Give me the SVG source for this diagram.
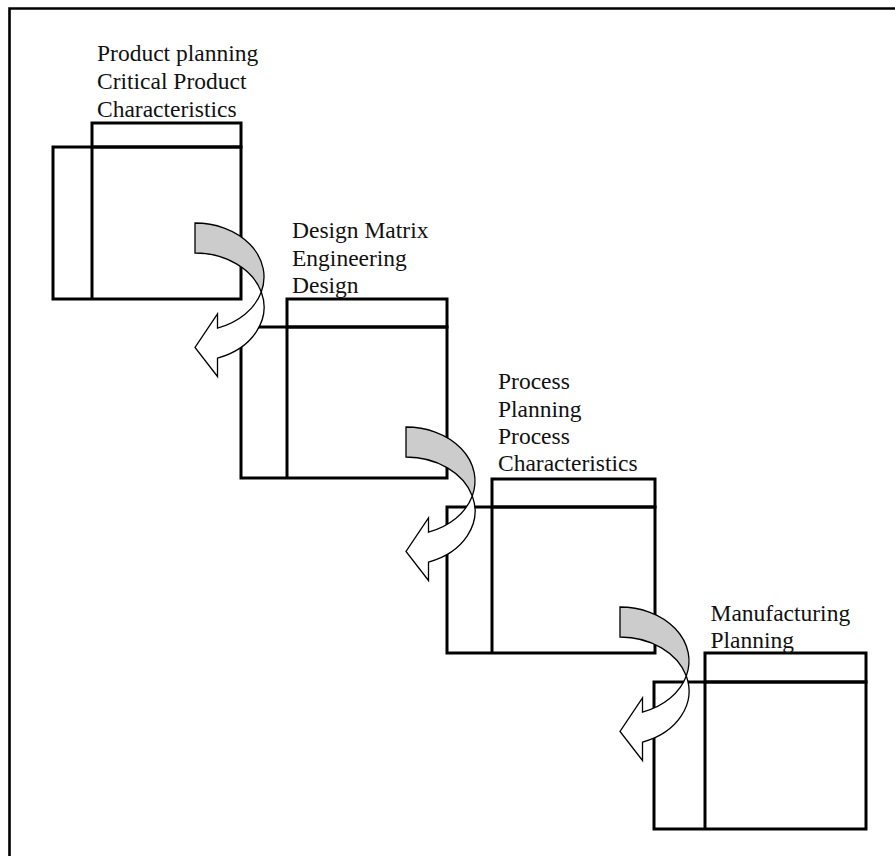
<svg xmlns="http://www.w3.org/2000/svg" xmlns:xlink="http://www.w3.org/1999/xlink" width="895" height="856" viewBox="0 0 895 856">
  <style>
    .frame { fill: none; stroke: #000; stroke-width: 2.6; }
    .mx { fill: none; stroke: #000; stroke-width: 3; }
    .lbl { font-family: "Liberation Serif", "Times New Roman", serif; font-size: 23.5px; fill: #111; }
    .back { fill: #cccccc; stroke: #000; stroke-width: 1.3; stroke-linejoin: miter; }
    .front { fill: #ffffff; stroke: #000; stroke-width: 1.3; stroke-linejoin: miter; }
  </style>
  <defs>
    <!-- curved hand-off arrow: shaded back band, white front band with head pointing left -->
    <g id="curved-arrow">
      <path class="back" d="M0,0 A69,54 0 0,1 66.3,69 A69,54 0 0,0 0,30 Z"/>
      <path class="front" d="M66.3,69 A69,54 0 0,1 22.5,135.05 L22.5,153.5 L0,124.5 L22.5,91 L22.5,105.05 A69,54 0 0,0 66.3,69 Z"/>
    </g>
  </defs>

  <rect width="895" height="856" fill="#fff"/>
  <path class="frame" d="M9.5,860 V8.5 H900"/>

  <g id="product-planning">
    <rect class="mx" x="53" y="147" width="188" height="152"/>
    <rect class="mx" x="92" y="123" width="149" height="24"/>
    <line class="mx" x1="92" y1="147" x2="92" y2="299"/>
    <text class="lbl" x="97" y="61">Product planning</text>
    <text class="lbl" x="97" y="89">Critical Product</text>
    <text class="lbl" x="97" y="117">Characteristics</text>
  </g>

  <g id="design-matrix">
    <rect class="mx" x="241" y="327" width="206" height="151"/>
    <rect class="mx" x="287" y="299" width="160" height="28"/>
    <line class="mx" x1="287" y1="327" x2="287" y2="478"/>
    <text class="lbl" x="292" y="238">Design Matrix</text>
    <text class="lbl" x="292" y="265.5">Engineering</text>
    <text class="lbl" x="292" y="293">Design</text>
  </g>

  <g id="process-planning">
    <rect class="mx" x="447" y="507" width="208" height="146"/>
    <rect class="mx" x="492" y="479" width="163" height="28"/>
    <line class="mx" x1="492" y1="507" x2="492" y2="653"/>
    <text class="lbl" x="498" y="389">Process</text>
    <text class="lbl" x="498" y="416.5">Planning</text>
    <text class="lbl" x="498" y="444">Process</text>
    <text class="lbl" x="498" y="471">Characteristics</text>
  </g>

  <g id="manufacturing-planning">
    <rect class="mx" x="654" y="682" width="212" height="147"/>
    <rect class="mx" x="705" y="653" width="161" height="29"/>
    <line class="mx" x1="705" y1="682" x2="705" y2="829"/>
    <text class="lbl" x="710.5" y="620.5">Manufacturing</text>
    <text class="lbl" x="710.5" y="648">Planning</text>
  </g>

  <g id="connectors">
    <use xlink:href="#curved-arrow" href="#curved-arrow" transform="translate(195,223)"/>
    <use xlink:href="#curved-arrow" href="#curved-arrow" transform="translate(406,427)"/>
    <use xlink:href="#curved-arrow" href="#curved-arrow" transform="translate(620,607)"/>
  </g>
</svg>
